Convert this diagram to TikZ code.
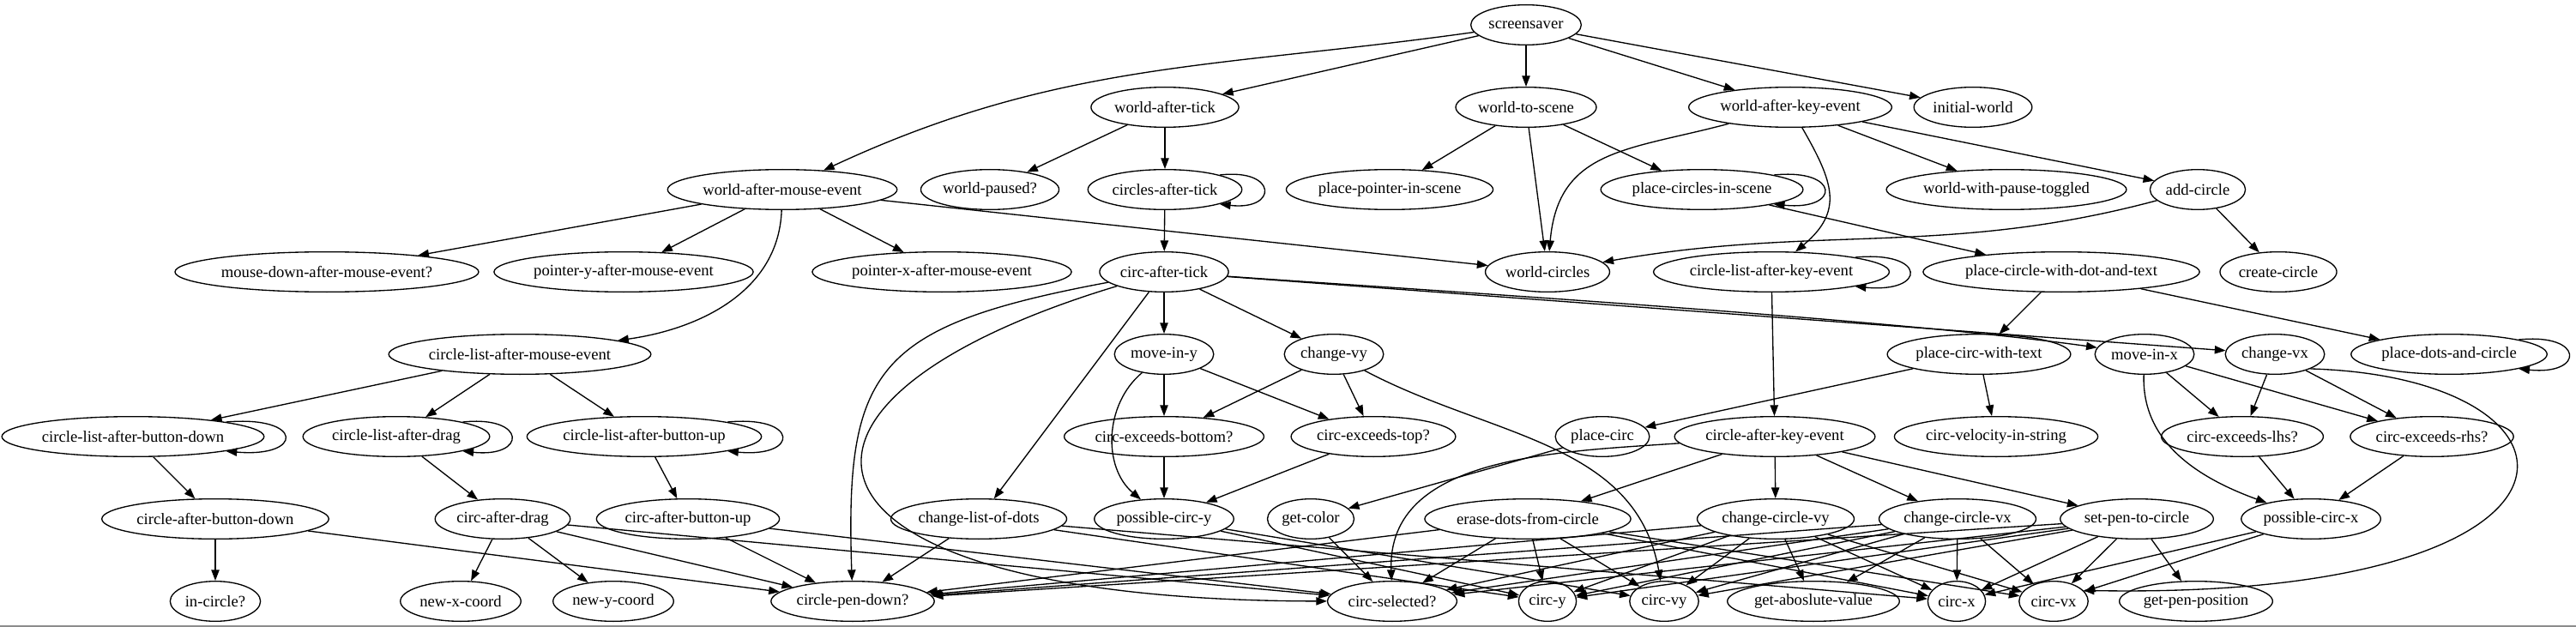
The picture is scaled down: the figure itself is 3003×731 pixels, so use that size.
\documentclass[tikz,border=0pt]{standalone}
\usepackage{fontspec}
\setmainfont{Liberation Serif}
\usetikzlibrary{arrows.meta,shapes.geometric}

\begin{document}
\begin{tikzpicture}[x=0.75pt,y=-0.75pt,line width=1pt,
    fn/.style={draw,ellipse,inner xsep=1.5pt,inner ysep=2pt,minimum height=35pt,font=\fontsize{14}{16}\selectfont},
    call/.style={-{Triangle[length=9.5pt,width=7pt]}},
    loopy/.style={to path={.. controls +(#1,-8) and +(#1,8) .. (\tikztotarget)}}]
    \useasboundingbox (0,0) rectangle (3003,731);
    \node [fn] (scr) at (1779,29) {screensaver};
    \node [fn] (wat) at (1358,125) {world-after-tick};
    \node [fn] (wts) at (1779,125) {world-to-scene};
    \node [fn] (wake) at (2087,125) {world-after-key-event};
    \node [fn] (iw) at (2300,125) {initial-world};
    \node [fn] (wame) at (912,221) {world-after-mouse-event};
    \node [fn] (wpaused) at (1154,221) {world-paused?};
    \node [fn] (cirat) at (1358,221) {circles-after-tick};
    \node [fn] (ppis) at (1620,221) {place-pointer-in-scene};
    \node [fn] (pcis) at (1984,221) {place-circles-in-scene};
    \node [fn] (wwpt) at (2339,221) {world-with-pause-toggled};
    \node [fn] (addc) at (2562,221) {add-circle};
    \node [fn] (mdame) at (381,317) {mouse-down-after-mouse-event?};
    \node [fn] (pyame) at (727,317) {pointer-y-after-mouse-event};
    \node [fn] (pxame) at (1098,317) {pointer-x-after-mouse-event};
    \node [fn] (cat) at (1357,317) {circ-after-tick};
    \node [fn] (wcirc) at (1804,317) {world-circles};
    \node [fn] (clake) at (2065,317) {circle-list-after-key-event};
    \node [fn] (pcdt) at (2403,317) {place-circle-with-dot-and-text};
    \node [fn] (crc) at (2656,317) {create-circle};
    \node [fn] (clame) at (606,413) {circle-list-after-mouse-event};
    \node [fn] (miy) at (1357,413) {move-in-y};
    \node [fn] (chvy) at (1555,413) {change-vy};
    \node [fn] (pcwt) at (2307,413) {place-circ-with-text};
    \node [fn] (mix) at (2500,413) {move-in-x};
    \node [fn] (chvx) at (2652,413) {change-vx};
    \node [fn] (pdac) at (2855,413) {place-dots-and-circle};
    \node [fn] (clabd) at (155,509) {circle-list-after-button-down};
    \node [fn] (clad) at (462,509) {circle-list-after-drag};
    \node [fn] (clabu) at (751,509) {circle-list-after-button-up};
    \node [fn] (ceb) at (1357,509) {circ-exceeds-bottom?};
    \node [fn] (cet) at (1601,509) {circ-exceeds-top?};
    \node [fn] (pcirc) at (1868,509) {place-circ};
    \node [fn] (cake) at (2069,509) {circle-after-key-event};
    \node [fn] (cvis) at (2327,509) {circ-velocity-in-string};
    \node [fn] (celhs) at (2614,509) {circ-exceeds-lhs?};
    \node [fn] (cerhs) at (2835,509) {circ-exceeds-rhs?};
    \node [fn] (cabd) at (251,605) {circle-after-button-down};
    \node [fn] (cad) at (586,605) {circ-after-drag};
    \node [fn] (cabu) at (802,605) {circ-after-button-up};
    \node [fn] (cld) at (1141,605) {change-list-of-dots};
    \node [fn] (pcy) at (1357,605) {possible-circ-y};
    \node [fn] (gcol) at (1528,605) {get-color};
    \node [fn] (edfc) at (1781,605) {erase-dots-from-circle};
    \node [fn] (ccvy) at (2070,605) {change-circle-vy};
    \node [fn] (ccvx) at (2282,605) {change-circle-vx};
    \node [fn] (sptc) at (2491,605) {set-pen-to-circle};
    \node [fn] (pcx) at (2694,605) {possible-circ-x};
    \node [fn] (incirc) at (251,701) {in-circle?};
    \node [fn] (nxc) at (537,701) {new-x-coord};
    \node [fn] (nyc) at (715,701) {new-y-coord};
    \node [fn] (cpd) at (994,701) {circle-pen-down?};
    \node [fn] (csel) at (1623,701) {circ-selected?};
    \node [fn] (cy) at (1804,701) {circ-y};
    \node [fn] (cvyy) at (1940,701) {circ-vy};
    \node [fn] (gav) at (2114,701) {get-aboslute-value};
    \node [fn] (cx) at (2281,701) {circ-x};
    \node [fn] (cvxx) at (2394,701) {circ-vx};
    \node [fn] (gpp) at (2560,701) {get-pen-position};
    \path [call] (scr) edge (wat) edge (wts) edge (wake) edge (iw);
    \draw [call] (scr) to[out=188,in=25] (wame);
    \path [call] (wat) edge (wpaused) edge (cirat);
    \draw [call] (cirat.north east) to[loopy=68] (cirat.south east);
    \draw [call] (cirat) -- (cat);
    \path [call] (wts) edge (ppis) edge (wcirc) edge (pcis);
    \draw [call] (pcis.north east) to[loopy=78] (pcis.south east);
    \draw [call] (pcis) -- (pcdt);
    \path [call] (wake) edge (wwpt) edge (addc);
    \draw [call] (wake) to[out=195,in=85,looseness=1.2] (wcirc);
    \draw [call] (wake) to[out=-60,in=40,looseness=1.3] (clake);
    \draw [call] (addc) -- (crc);
    \draw [call] (addc) to[out=195,in=10] (wcirc);
    \path [call] (wame) edge (mdame) edge (pyame) edge (pxame) edge (wcirc);
    \draw [call] (wame) to[out=-92,in=8] (clame);
    \draw [call] (clake.north east) to[loopy=84] (clake.south east);
    \draw [call] (clake) -- (cake);
    \path [call] (pcdt) edge (pcwt) edge (pdac);
    \draw [call] (pdac.north east) to[loopy=77] (pdac.south east);
    \path [call] (pcwt) edge (pcirc) edge (cvis);
    \path [call] (cat) edge (miy) edge (chvy) edge (cld) edge (chvx);
    \draw [call] (cat) to[out=-4,in=172,looseness=0.6] (mix);
    \draw [call] (cat) .. controls (1020,380) and (985,430) .. (cpd);
    \draw [call] (cat) .. controls (850,470) and (900,700) .. (csel);
    \path [call] (miy) edge (ceb) edge (cet);
    \draw [call] (miy) to[out=220,in=140] (pcy);
    \path [call] (chvy) edge (ceb) edge (cet);
    \draw [call] (chvy) to[out=-28,in=100] (cvyy);
    \path [call] (ceb) edge (pcy) (cet) edge (pcy);
    \path [call] (clame) edge (clabd) edge (clad) edge (clabu);
    \draw [call] (clabd.north east) to[loopy=91] (clabd.south east);
    \draw [call] (clad.north east) to[loopy=75] (clad.south east);
    \draw [call] (clabu.north east) to[loopy=84] (clabu.south east);
    \draw [call] (clabd) -- (cabd);
    \draw [call] (clad) -- (cad);
    \draw [call] (clabu) -- (cabu);
    \path [call] (cabd) edge (incirc) edge (cpd);
    \path [call] (cad) edge (nxc) edge (nyc) edge (cpd) edge (csel);
    \path [call] (cabu) edge (cpd) edge (csel);
    \path [call] (cld) edge (cpd) edge (cy) edge (cx);
    \path [call] (pcy) edge (cy) edge (cvyy);
    \draw [call] (pcirc) -- (gcol);
    \draw [call] (gcol) -- (csel);
    \path [call] (cake) edge (edfc) edge (ccvy) edge (ccvx) edge (sptc);
    \draw [call] (cake) to[out=184,in=92] (csel);
    \path [call] (edfc) edge (cpd) edge (csel) edge (cy) edge (cvyy) edge (cx) edge (cvxx);
    \path [call] (ccvy) edge (cpd) edge (csel) edge (cy) edge (cvyy) edge (gav) edge (cx) edge (cvxx);
    \path [call] (ccvx) edge (cpd) edge (csel) edge (cy) edge (cvyy) edge (gav) edge (cx) edge (cvxx);
    \path [call] (sptc) edge (cpd) edge (csel) edge (cy) edge (cvyy) edge (cx) edge (cvxx) edge (gpp);
    \path [call] (mix) edge (celhs) edge (cerhs);
    \draw [call] (mix) to[out=-92,in=160] (pcx);
    \path [call] (chvx) edge (celhs) edge (cerhs);
    \draw [call] (chvx.south east) .. controls (3040,440) and (3060,700) .. (cvxx.20);
    \path [call] (celhs) edge (pcx) (cerhs) edge (pcx);
    \path [call] (pcx) edge (cx) edge (cvxx);
    \draw [black!45,line width=1.5pt] (0,729.5) -- (3003,729.5);
\end{tikzpicture}
\end{document}
